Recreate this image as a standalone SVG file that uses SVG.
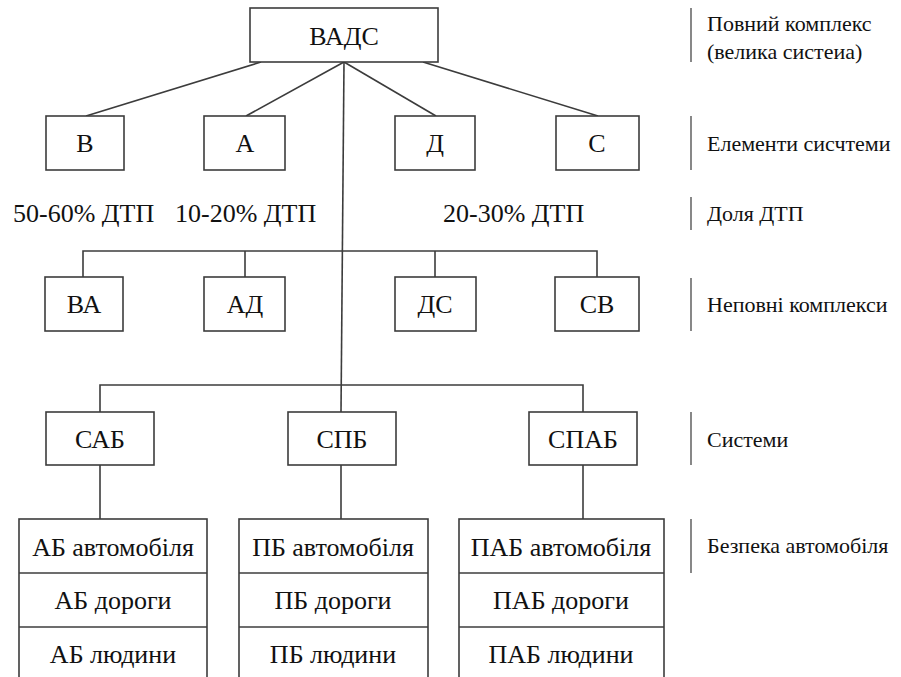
<svg xmlns="http://www.w3.org/2000/svg" width="901" height="677" viewBox="0 0 901 677" font-family="Liberation Serif, Times New Roman, DejaVu Serif, serif">
  <style>
    .box { fill: #ffffff; stroke: #3c3c3c; stroke-width: 1.6; }
    .ln { fill: none; stroke: #3c3c3c; stroke-width: 1.6; }
    .bar { fill: none; stroke: #555555; stroke-width: 1.4; }
    text { fill: #111111; }
    .t { font-size: 26px; text-anchor: middle; }
    .pct { font-size: 26px; }
    .side { font-size: 22px; }
  </style>
  <rect width="901" height="677" fill="#ffffff"/>

  <!-- connectors -->
  <g id="connectors">
    <line class="ln" x1="261" y1="62" x2="86" y2="116"/>
    <line class="ln" x1="344" y1="62" x2="246" y2="116"/>
    <line class="ln" x1="344" y1="62" x2="436" y2="116"/>
    <line class="ln" x1="423" y1="62" x2="598" y2="116"/>
    <line class="ln" x1="344" y1="62" x2="341" y2="412"/>
    <polyline class="ln" points="83,277 83,251 597,251 597,277"/>
    <line class="ln" x1="245" y1="251" x2="245" y2="277"/>
    <line class="ln" x1="435" y1="251" x2="435" y2="277"/>
    <polyline class="ln" points="100,412 100,385 583,385 583,412"/>
    <line class="ln" x1="100" y1="465" x2="100" y2="519"/>
    <line class="ln" x1="341" y1="465" x2="341" y2="519"/>
    <line class="ln" x1="583" y1="465" x2="583" y2="519"/>
  </g>

  <!-- full complex -->
  <g id="node-vads">
    <rect class="box" x="250" y="8" width="188" height="54"/>
    <text class="t" x="344" y="45">ВАДС</text>
  </g>

  <!-- system elements -->
  <g id="node-v">
    <rect class="box" x="46" y="116" width="78" height="54"/>
    <text class="t" x="85" y="152">В</text>
  </g>
  <g id="node-a">
    <rect class="box" x="204" y="116" width="81" height="54"/>
    <text class="t" x="245" y="152">А</text>
  </g>
  <g id="node-d">
    <rect class="box" x="395" y="116" width="80" height="54"/>
    <text class="t" x="435" y="152">Д</text>
  </g>
  <g id="node-s">
    <rect class="box" x="556" y="116" width="83" height="54"/>
    <text class="t" x="597" y="152">С</text>
  </g>

  <!-- accident shares -->
  <g id="shares">
    <text class="pct" x="13" y="222">50-60% ДТП</text>
    <text class="pct" x="175" y="222">10-20% ДТП</text>
    <text class="pct" x="443" y="222">20-30% ДТП</text>
  </g>

  <!-- partial complexes -->
  <g id="node-va">
    <rect class="box" x="45" y="277" width="78" height="54"/>
    <text class="t" x="84" y="313">ВА</text>
  </g>
  <g id="node-ad">
    <rect class="box" x="204" y="277" width="81" height="54"/>
    <text class="t" x="245" y="313">АД</text>
  </g>
  <g id="node-ds">
    <rect class="box" x="395" y="277" width="81" height="54"/>
    <text class="t" x="435" y="313">ДС</text>
  </g>
  <g id="node-sv">
    <rect class="box" x="555" y="277" width="84" height="54"/>
    <text class="t" x="597" y="313">СВ</text>
  </g>

  <!-- systems -->
  <g id="node-sab">
    <rect class="box" x="46" y="412" width="108" height="53"/>
    <text class="t" x="100" y="448">САБ</text>
  </g>
  <g id="node-spb">
    <rect class="box" x="288" y="412" width="108" height="53"/>
    <text class="t" x="342" y="448">СПБ</text>
  </g>
  <g id="node-spab">
    <rect class="box" x="529" y="412" width="108" height="53"/>
    <text class="t" x="583" y="448">СПАБ</text>
  </g>

  <!-- safety tables -->
  <g id="table-ab">
    <rect class="box" x="19" y="519" width="188" height="175"/>
    <line class="ln" x1="19" y1="573" x2="207" y2="573"/>
    <line class="ln" x1="19" y1="627" x2="207" y2="627"/>
    <text class="t" x="113" y="556">АБ автомобіля</text>
    <text class="t" x="113" y="609">АБ дороги</text>
    <text class="t" x="113" y="663">АБ людини</text>
  </g>
  <g id="table-pb">
    <rect class="box" x="239" y="519" width="189" height="175"/>
    <line class="ln" x1="239" y1="573" x2="428" y2="573"/>
    <line class="ln" x1="239" y1="627" x2="428" y2="627"/>
    <text class="t" x="333" y="556">ПБ автомобіля</text>
    <text class="t" x="333" y="609">ПБ дороги</text>
    <text class="t" x="333" y="663">ПБ людини</text>
  </g>
  <g id="table-pab">
    <rect class="box" x="459" y="519" width="205" height="175"/>
    <line class="ln" x1="459" y1="573" x2="664" y2="573"/>
    <line class="ln" x1="459" y1="627" x2="664" y2="627"/>
    <text class="t" x="561" y="556">ПАБ автомобіля</text>
    <text class="t" x="561" y="609">ПАБ дороги</text>
    <text class="t" x="561" y="663">ПАБ людини</text>
  </g>

  <!-- level legend -->
  <g id="legend">
    <line class="bar" x1="691" y1="8" x2="691" y2="62"/>
    <text class="side" x="707" y="31">Повний комплекс</text>
    <text class="side" x="707" y="59">(велика систеиа)</text>
    <line class="bar" x1="691" y1="116" x2="691" y2="170"/>
    <text class="side" x="707" y="151">Елементи сисчтеми</text>
    <line class="bar" x1="691" y1="197" x2="691" y2="230"/>
    <text class="side" x="707" y="221">Доля ДТП</text>
    <line class="bar" x1="691" y1="278" x2="691" y2="331"/>
    <text class="side" x="707" y="312">Неповні комплекси</text>
    <line class="bar" x1="691" y1="412" x2="691" y2="465"/>
    <text class="side" x="707" y="447">Системи</text>
    <line class="bar" x1="691" y1="519" x2="691" y2="573"/>
    <text class="side" x="707" y="553">Безпека автомобіля</text>
  </g>
</svg>
